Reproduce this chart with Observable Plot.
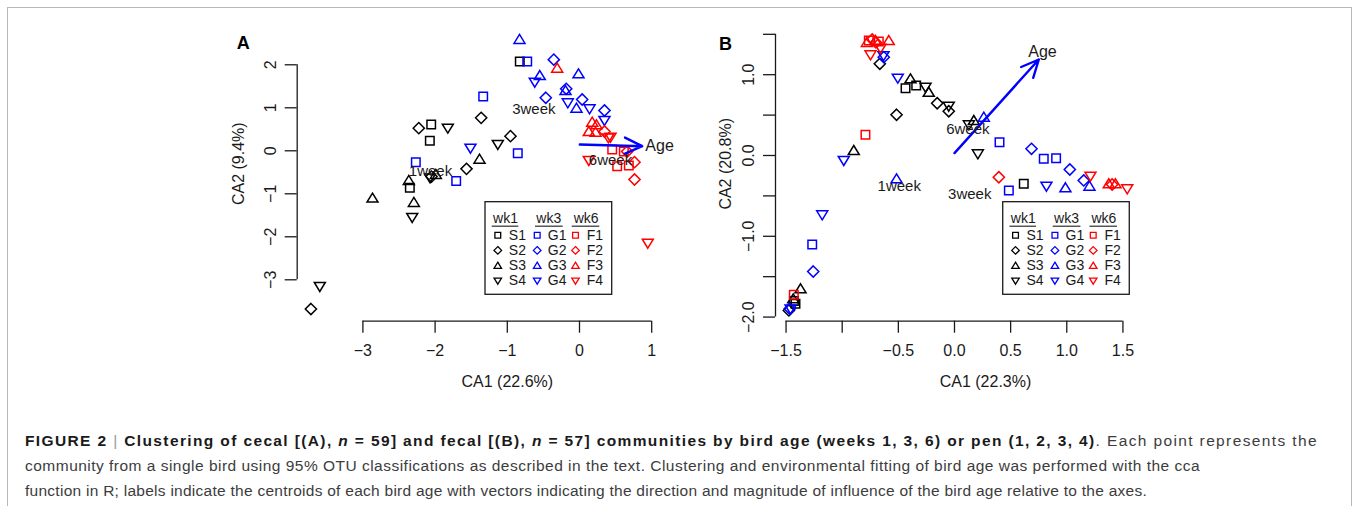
<!DOCTYPE html>
<html><head><meta charset="utf-8">
<script src="https://cdn.jsdelivr.net/npm/d3@7"></script>
<script src="https://cdn.jsdelivr.net/npm/@observablehq/plot@0.6"></script>
<style>
body{margin:0;background:#fff;}
#page{position:relative;width:1356px;height:506px;overflow:hidden;font-family:"Liberation Sans",Arial,sans-serif;}
#border{position:absolute;left:7px;top:7px;width:1343px;height:600px;border:1.5px solid #b8b8b8;}
#A{position:absolute;left:200px;top:20px;}
#B{position:absolute;left:690px;top:20px;}
#cap{position:absolute;left:25px;top:428px;font-size:15.5px;color:#3c3c3c;line-height:25px;white-space:nowrap;}
#cap b{color:#1a1a1a;}
#cap .sep{color:#999;font-weight:normal;}
</style></head><body>
<div id="page">
<div id="border"></div>
<div id="A"></div>
<div id="B"></div>
<div id="cap">
<div class="ln" data-w="1293"><b>FIGURE 2</b> <span class="sep">|</span> <b>Clustering of cecal [(A), <i>n</i> = 59] and fecal [(B), <i>n</i> = 57] communities by bird age (weeks 1, 3, 6) or pen (1, 2, 3, 4)</b>. Each point represents the</div>
<div class="ln" data-w="1175">community from a single bird using 95% OTU classifications as described in the text. Clustering and environmental fitting of bird age was performed with the cca</div>
<div class="ln" data-w="1122">function in R; labels indicate the centroids of each bird age with vectors indicating the direction and magnitude of influence of the bird age relative to the axes.</div>
</div>
</div>
<script>
// ---------- data: [CA1, CA2, pen] ----------
const cecalWk1 = [
  [-2.054,0.61,1],[-2.073,0.232,1],[-2.35,-0.86,1],[-0.827,2.077,1],
  [-2.226,0.526,2],[-2.05,-0.60,2],[-1.362,0.767,2],[-1.565,-0.42,2],[-0.956,0.34,2],[-3.72,-3.68,2],
  [-1.99,-0.55,3],[-2.364,-0.69,3],[-2.867,-1.10,3],[-2.294,-1.20,3],[-1.385,-0.195,3],
  [-1.824,0.526,4],[-2.07,-0.63,4],[-2.317,-1.55,4],[-3.597,-3.156,4],[-1.131,0.147,4]
];
const cecalWk3 = [
  [-2.267,-0.265,1],[-1.708,-0.70,1],[-1.334,1.26,1],[-0.724,2.077,1],[-0.855,-0.056,1],
  [-0.356,2.12,2],[-0.467,1.233,2],[-0.184,1.442,2],[0.037,1.193,2],[0.346,0.937,2],
  [-0.831,2.59,3],[-0.55,1.75,3],[-0.014,1.79,3],[-0.194,1.40,3],[-0.042,0.99,3],
  [-1.51,0.06,4],[-0.619,1.595,4],[-0.162,1.116,4],[0.139,0.977,4],[0.346,0.705,4]
];
const cecalWk6 = [
  [0.453,0.03,1],[0.614,-0.016,1],[0.522,-0.358,1],[0.683,-0.342,1],
  [0.346,0.449,2],[0.66,-0.016,2],[0.762,-0.265,2],[0.762,-0.667,2],
  [-0.309,1.92,3],[0.176,0.665,3],[0.235,0.605,3],[0.129,0.449,3],[0.222,0.433,3],
  [0.43,0.316,4],[0.129,-0.226,4],[0.946,-2.149,4],[0.40,0.30,4]
];
const fecalWk1 = [
  [-0.436,0.833,1],[-0.341,0.866,1],[0.617,-0.35,1],[-1.416,-1.835,1],[-1.43,-1.80,1],
  [-0.665,1.135,2],[-0.154,0.647,2],[-0.051,0.548,2],[-0.516,0.504,2],[-1.475,-1.918,2],
  [-0.392,0.949,3],[-0.229,0.783,3],[0.172,0.433,3],[-0.897,0.062,3],[-1.371,-1.65,3],[-1.436,-1.774,3],
  [-0.258,0.845,4],[-0.051,0.61,4],[0.128,0.38,4],[0.208,0.021,4]
];
const fecalWk3 = [
  [0.401,0.165,1],[0.484,-0.433,1],[0.795,-0.041,1],[0.905,-0.033,1],[-1.267,-1.101,1],
  [-0.63,1.217,2],[0.686,0.083,2],[1.027,-0.173,2],[1.151,-0.309,2],[-1.258,-1.436,2],[-1.467,-1.897,2],
  [0.261,0.474,3],[-0.516,-0.289,3],[0.988,-0.40,3],[1.202,-0.38,3],
  [-0.632,1.235,4],[-0.505,0.957,4],[-0.986,-0.062,4],[-1.178,-0.734,4],[0.819,-0.38,4],[-1.46,-1.90,4]
];
const fecalWk6 = [
  [-0.763,1.423,1],[-0.674,1.411,1],[-0.793,0.256,1],[-1.431,-1.724,1],
  [-0.733,1.436,2],[0.395,-0.269,2],[1.404,-0.359,2],[-0.70,1.40,2],
  [-0.703,1.423,3],[-0.585,1.423,3],[-0.78,1.40,3],[1.374,-0.35,3],[1.434,-0.35,3],
  [-0.748,1.246,4],[-0.659,1.328,4],[1.211,-0.256,4],[1.538,-0.412,4]
];
// centroid labels [label, CA1, CA2]
const cecalCentroids = [["1week",-2.064,-0.47],["3week",-0.633,0.96],["6week",0.429,-0.21]];
const fecalCentroids = [["1week",-0.492,-0.38],["3week",0.136,-0.483],["6week",0.119,0.33]];
// env-fit vectors
const cecalVector = [{x1:0.004,y1:0.147,x2:0.868,y2:0.107}];
const fecalVector = [{x1:0.0,y1:0.03,x2:0.751,y2:1.188}];
const cecalVectorLabel = [{x:0.959,y:0.12,t:"Age"}];
const fecalVectorLabel = [{x:0.784,y:1.287,t:"Age"}];
// legend
const weekNames = ["wk1","wk3","wk6"];
const penLabels = [["S1","S2","S3","S4"],["G1","G2","G3","G4"],["F1","F2","F3","F4"]];
const weekColors = ["#000000","#0000ff","#ff0000"];
const cecalLegendBox = [{x1:-1.302,x2:0.453,y1:-1.195,y2:-3.349}];
const fecalLegendBox = [{x1:0.434,x2:1.561,y1:-0.578,y2:-1.724}];
// axes
const cecalXTicks = [-3,-2,-1,0,1];
const cecalYTicks = [-3,-2,-1,0,1,2];
const fecalXTicks = [-1.5,-1,-0.5,0,0.5,1,1.5];
const fecalYTicks = [-2,-1.5,-1,-0.5,0,0.5,1,1.5];

// ---------- drawing ----------
const INK = "#1a1a1a";
const FONT = "'Liberation Sans', Arial, Helvetica, sans-serif";
const shp = pts => ({draw(ctx, size){
  const r = Math.sqrt(size / Math.PI);
  ctx.moveTo(pts[0][0]*r, pts[0][1]*r);
  for (let i = 1; i < pts.length; i++) ctx.lineTo(pts[i][0]*r, pts[i][1]*r);
  ctx.closePath();
}});
const SYMS = {
  1: shp([[-0.85,-0.85],[0.85,-0.85],[0.85,0.85],[-0.85,0.85]]),
  2: shp([[0,-1.12],[1.12,0],[0,1.12],[-1.12,0]]),
  3: shp([[0,-1.0],[1.1,0.8],[-1.1,0.8]]),
  4: shp([[0,1.0],[1.1,-0.8],[-1.1,-0.8]])
};
const minus = s => s.replace("-", "\u2212");

function panel(o) {
  const marks = [];
  const last = a => a[a.length-1];
  // axis lines (R style, spanning the tick range)
  marks.push(Plot.ruleY([{y:o.yDomain[0], a:o.xTicks[0], b:last(o.xTicks)}], {y:"y", x1:"a", x2:"b", stroke:INK, strokeWidth:1.3}));
  marks.push(Plot.ruleX([{x:o.xDomain[0], a:o.yTicks[0], b:last(o.yTicks)}], {x:"x", y1:"a", y2:"b", stroke:INK, strokeWidth:1.3}));
  marks.push(Plot.axisX({ticks:o.xTicks, tickSize:12, tickFormat:() => "", label:null, stroke:INK, strokeWidth:1.3}));
  marks.push(Plot.axisY({ticks:o.yTicks, tickSize:12, tickFormat:() => "", label:null, stroke:INK, strokeWidth:1.3}));
  marks.push(Plot.text(o.xTicks, {x:d => d, text:o.xFmt, frameAnchor:"bottom", dy:30, lineAnchor:"middle", textAnchor:"middle", fontSize:16, fill:INK}));
  marks.push(Plot.text(o.yTicks, {y:d => d, text:o.yFmt, frameAnchor:"left", dx:-26.7, rotate:-90, lineAnchor:"middle", textAnchor:"middle", fontSize:16, fill:INK}));
  marks.push(Plot.text([o.xLabel], {x:"x", text:"t", frameAnchor:"bottom", dy:61, lineAnchor:"middle", textAnchor:"middle", fontSize:16, fill:INK}));
  marks.push(Plot.text([o.yLabel], {y:"y", text:"t", frameAnchor:"left", dx:o.yLabelDx, rotate:-90, lineAnchor:"middle", textAnchor:"middle", fontSize:16, fill:INK}));
  marks.push(Plot.text([o.tag], {text:"t", frameAnchor:"top-left", dx:o.tag.dx, dy:o.tag.dy, lineAnchor:"middle", textAnchor:"middle", fontSize:18, fontWeight:"bold", fill:"#000"}));
  // points
  o.weeks.forEach((arr, w) => {
    [1,2,3,4].forEach(p => {
      marks.push(Plot.dot(arr.filter(d => d[2] === p), {x:d => d[0], y:d => d[1], symbol:SYMS[p], r:5, stroke:weekColors[w], strokeWidth:1.5, fill:"none"}));
    });
  });
  // vector
  marks.push(Plot.arrow(o.vector, {x1:"x1", y1:"y1", x2:"x2", y2:"y2", stroke:"#0000ff", strokeWidth:2.4, headLength:12, headAngle:50}));
  marks.push(Plot.text(o.vectorLabel, {x:"x", y:"y", text:"t", textAnchor:"middle", fontSize:16, fill:INK}));
  // centroids
  marks.push(Plot.text(o.centroids, {x:d => d[1], y:d => d[2], text:d => d[0], fontSize:15, fill:INK}));
  // legend
  const L = o.legend;
  marks.push(Plot.rect(L, {x1:"x1", x2:"x2", y1:"y1", y2:"y2", fill:"white", stroke:INK, strokeWidth:1.3}));
  const headDx = [20, 63.3, 100.7], ul = [[6.7,33.3],[50,77.7],[86.7,114.3]];
  const symDx = [12.3, 51.7, 90], labDx = [23.3, 62.3, 101.3];
  weekNames.forEach((wk, c) => {
    marks.push(Plot.text(L, {x:"x1", y:"y1", text:() => wk, dx:headDx[c], dy:16, fontSize:14, fill:INK}));
    marks.push(Plot.ruleY(L, {y:"y1", x1:"x1", x2:"x1", insetLeft:ul[c][0], insetRight:-ul[c][1], dy:24, stroke:INK, strokeWidth:1.1}));
    penLabels[c].forEach((lab, r) => {
      const dy = 33 + 15.2*r;
      marks.push(Plot.dot(L, {x:"x1", y:"y1", dx:symDx[c], dy, symbol:SYMS[r+1], r:3.4, stroke:weekColors[c], strokeWidth:1.3, fill:"none"}));
      marks.push(Plot.text(L, {x:"x1", y:"y1", text:() => lab, dx:labDx[c], dy, textAnchor:"start", fontSize:14, fill:INK}));
    });
  });
  return Plot.plot({
    width:o.width, height:380,
    marginLeft:o.m[0], marginRight:o.m[1], marginTop:o.m[2], marginBottom:o.m[3],
    x:{domain:o.xDomain}, y:{domain:o.yDomain},
    style:{fontFamily:FONT, background:"transparent", overflow:"visible"},
    marks
  });
}

document.getElementById("A").append(panel({
  width:480, m:[96.7,14,12,79.3],
  xDomain:[-3.91,1.205], yDomain:[-3.963,2.751],
  xTicks:cecalXTicks, yTicks:cecalYTicks,
  xFmt:d => minus(String(d)), yFmt:d => minus(String(d)),
  xLabel:{x:-1, t:"CA1 (22.6%)"}, yLabel:{y:-0.30, t:"CA2 (9.4%)"}, yLabelDx:-58.7,
  tag:{t:"A", dx:-54, dy:11},
  weeks:[cecalWk1, cecalWk3, cecalWk6],
  vector:cecalVector, vectorLabel:[{...cecalVectorLabel[0]}].map(d => ({...d, x:d.x + 0.15})),
  centroids:cecalCentroids, legend:cecalLegendBox
}));
document.getElementById("B").append(panel({
  width:470, m:[85,25,13,79.3],
  xDomain:[-1.594,1.612], yDomain:[-2.051,1.51],
  xTicks:fecalXTicks, yTicks:fecalYTicks,
  xFmt:d => d === -1 ? "" : minus(d.toFixed(1)),
  yFmt:d => Number.isInteger(d) ? minus(d.toFixed(1)) : "",
  xLabel:{x:0.276, t:"CA1 (22.3%)"}, yLabel:{y:-0.103, t:"CA2 (20.8%)"}, yLabelDx:-50,
  tag:{t:"B", dx:-50, dy:10.5},
  weeks:[fecalWk1, fecalWk3, fecalWk6],
  vector:fecalVector, vectorLabel:fecalVectorLabel,
  centroids:fecalCentroids, legend:fecalLegendBox
}));

// fit caption lines to their measured widths
document.querySelectorAll("#cap .ln").forEach(el => {
  el.style.display = "inline-block";
  const w = el.getBoundingClientRect().width, target = +el.dataset.w;
  const n = el.textContent.length;
  el.style.letterSpacing = ((target - w) / n).toFixed(3) + "px";
  el.style.display = "block";
});
</script>
</body></html>
